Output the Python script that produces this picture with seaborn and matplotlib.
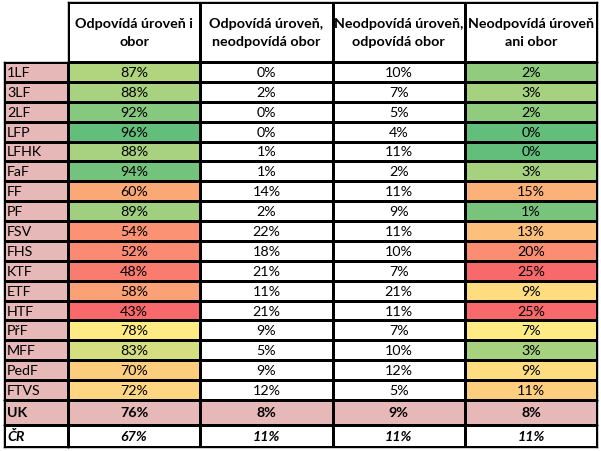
"""Shoda úrovně a oboru vzdělání podle fakult - tabulka s barevnou škálou."""
import matplotlib.pyplot as plt
import numpy as np
import seaborn as sns
from matplotlib.colors import LinearSegmentedColormap, ListedColormap

plt.rcParams["font.family"] = ["Lato", "DejaVu Sans"]

headers = [
    "Odpovídá úroveň i\nobor",
    "Odpovídá úroveň,\nneodpovídá obor",
    "Neodpovídá úroveň,\nodpovídá obor",
    "Neodpovídá úroveň\nani obor",
]
faculties = ["1LF", "3LF", "2LF", "LFP", "LFHK", "FaF", "FF", "PF", "FSV", "FHS",
             "KTF", "ETF", "HTF", "PřF", "MFF", "PedF", "FTVS"]
both_match = [87, 88, 92, 96, 88, 94, 60, 89, 54, 52, 48, 58, 43, 78, 83, 70, 72]
level_only = [0, 2, 0, 0, 1, 1, 14, 2, 22, 18, 21, 11, 21, 9, 5, 9, 12]
field_only = [10, 7, 5, 4, 11, 2, 11, 9, 11, 10, 7, 21, 11, 7, 10, 12, 5]
neither = [2, 3, 2, 0, 0, 3, 15, 1, 13, 20, 25, 9, 25, 7, 3, 9, 11]
uk_row = [76, 8, 9, 8]
cr_row = [67, 11, 11, 11]

PINK = "#E6B8B7"
W, H = 601, 452
LW = 1.0
FS = 10.3

fig = plt.figure(figsize=(W / 100, H / 100), dpi=100)


def px_axes(x0, y0, x1, y1):
    return fig.add_axes([x0 / W, 1 - y1 / H, (x1 - x0) / W, (y1 - y0) / H])


def excel_scale(vals):
    # 3-barevná škála jako v Excelu: min / 50. percentil / max
    v = np.asarray(vals, dtype=float)
    lo, mid, hi = v.min(), np.median(v), v.max()
    return np.where(v <= mid, 0.5 * (v - lo) / (mid - lo), 0.5 + 0.5 * (v - mid) / (hi - mid))


def finish(ax):
    ax.set_xticks([])
    ax.set_yticks([])
    for s in ax.spines.values():
        s.set_visible(True)
        s.set_linewidth(LW)
        s.set_color("black")


def flat_block(ax, shape, color, annot=None, **kws):
    sns.heatmap(np.zeros(shape), cmap=ListedColormap([color]), cbar=False,
                annot=annot if annot is not None else False, fmt="",
                linewidths=LW, linecolor="black",
                annot_kws=dict(color="black", fontsize=FS, **kws), ax=ax)
    finish(ax)


# barvy: 0..1 červená-žlutá-zelená, 2 = bílá
cmap = LinearSegmentedColormap.from_list(
    "rag", [(0, "#F8696B"), (0.25, "#FFEB84"), (0.5, "#63BE7B"), (0.55, "#63BE7B"),
            (0.56, "white"), (1, "white")], N=2048)

n = len(faculties)
scores = np.column_stack([excel_scale(both_match), np.full(n, 2.0), np.full(n, 2.0),
                          1 - excel_scale(neither)])
values = np.column_stack([both_match, level_only, field_only, neither])
annot = np.vectorize(lambda v: f"{v}%")(values)

# záhlaví
ax = px_axes(68, 3, 597, 63)
flat_block(ax, (1, 4), "white", annot=np.array([headers]), fontweight="bold", linespacing=1.6)

# fakulty
ax = px_axes(68, 63, 597, 401)
sns.heatmap(scores, annot=annot, fmt="", cmap=cmap, vmin=0, vmax=2, cbar=False,
            linewidths=LW, linecolor="black",
            annot_kws=dict(color="black", fontsize=FS), ax=ax)
finish(ax)

ax = px_axes(4, 63, 68, 401)
flat_block(ax, (n, 1), PINK)
for i, name in enumerate(faculties):
    ax.text(0.05, i + 0.5, name, ha="left", va="center", fontsize=FS)

# UK
ax = px_axes(68, 401, 597, 426)
flat_block(ax, (1, 4), PINK, annot=np.array([[f"{v}%" for v in uk_row]]), fontweight="bold")
ax = px_axes(4, 401, 68, 426)
flat_block(ax, (1, 1), PINK)
ax.text(0.05, 0.5, "UK", ha="left", va="center", fontsize=FS, fontweight="bold")

# ČR
ax = px_axes(68, 426, 597, 448)
flat_block(ax, (1, 4), "white", annot=np.array([[f"{v}%" for v in cr_row]]),
           fontweight="bold", fontstyle="italic")
ax = px_axes(4, 426, 68, 448)
flat_block(ax, (1, 1), "white")
ax.text(0.05, 0.5, "ČR", ha="left", va="center", fontsize=FS, fontweight="bold", fontstyle="italic")

fig.savefig("out.png", dpi=100)
